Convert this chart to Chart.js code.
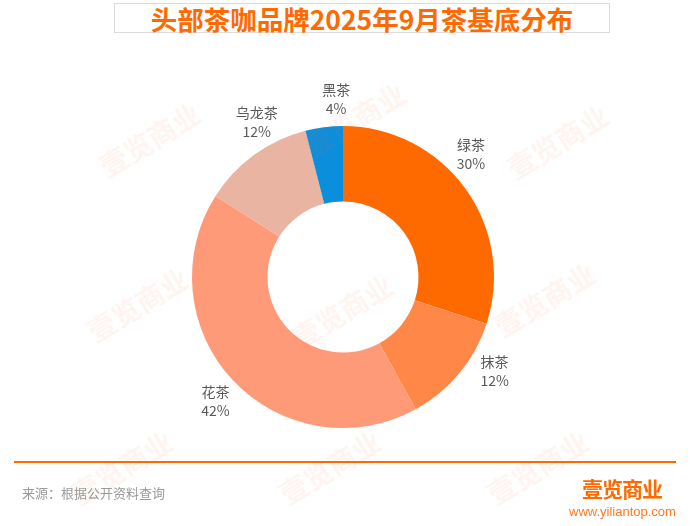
<!DOCTYPE html>
<html>
<head>
<meta charset="utf-8">
<script src="https://cdn.jsdelivr.net/npm/chart.js@4.4.1/dist/chart.umd.min.js"></script>
<style>
  html, body { margin: 0; padding: 0; background: #fff; }
  #wrap { position: relative; width: 690px; height: 526px; overflow: hidden; font-family: "Noto Sans CJK SC", "Noto Sans", sans-serif; }
  #title_box { position: absolute; left: 114px; top: 3px; width: 494px; height: 28px; border: 1px solid #dcdcdc; }
  #title { position: absolute; left: 114px; top: 0px; width: 496px; text-align: center; color: #ff6a00; font-weight: bold; font-size: 26.5px; line-height: 37px; }
  #line { position: absolute; left: 14px; top: 461px; width: 662px; height: 2px; background: #ff6a00; }
  #source { position: absolute; left: 22px; top: 483px; color: #9a9a9a; font-size: 13px; }
  #logo { position: absolute; left: 582px; top: 473px; color: #ff6a00; font-weight: bold; font-size: 21px; letter-spacing: -1px; }
  #site { position: absolute; left: 569px; top: 504px; color: #ff7a20; font-size: 13px; font-family: "Liberation Sans", sans-serif; }
  canvas { position: absolute; left: 0; top: 0; }
</style>
</head>
<body>
<div id="wrap">
  <div id="title_box"></div>
  <div id="title">头部茶咖品牌2025年9月茶基底分布</div>
  <canvas id="teaChart" width="690" height="526"></canvas>
  <div id="line"></div>
  <div id="source">来源：根据公开资料查询</div>
  <div id="logo">壹览商业</div>
  <div id="site">www.yiliantop.com</div>
</div>
<script>
var teaLabels = ["绿茶", "抹茶", "花茶", "乌龙茶", "黑茶"];
var teaValues = [30, 12, 42, 12, 4];
var teaColors = ["#ff6a00", "#ff8747", "#ff9a78", "#e9b4a2", "#0b8edc"];

// labels outside each slice (small angle nudge per label, degrees)
var labelNudge = [-8, -8, -1, 7, 5];
var sliceLabels = {
  id: "sliceLabels",
  afterDatasetsDraw(chart) {
    let ctx = chart.ctx;
    let meta = chart.getDatasetMeta(0);
    ctx.save();
    ctx.fillStyle = "#595959";
    ctx.font = "14px 'Noto Sans CJK SC', sans-serif";
    ctx.textAlign = "center";
    ctx.textBaseline = "middle";
    meta.data.forEach(function (arc, i) {
      let mid = (arc.startAngle + arc.endAngle) / 2 + labelNudge[i] * Math.PI / 180;
      let r = arc.outerRadius + 27;
      let x = arc.x + Math.cos(mid) * r;
      let y = arc.y + Math.sin(mid) * r;
      ctx.fillText(teaLabels[i], x, y - 9);
      ctx.fillText(teaValues[i] + "%", x, y + 10);
    });
    ctx.restore();
  }
};

// faint watermarks
var watermark = {
  id: "watermark",
  afterDraw(chart) {
    let ctx = chart.ctx;
    let spots = [[150, 140], [355, 120], [558, 142], [138, 305], [342, 312], [545, 300], [122, 468], [330, 468], [538, 468]];
    ctx.save();
    ctx.fillStyle = "rgba(255,120,60,0.08)";
    ctx.font = "bold 28px 'Noto Sans CJK SC', sans-serif";
    ctx.textAlign = "center";
    ctx.textBaseline = "middle";
    spots.forEach(function (p) {
      ctx.save();
      ctx.translate(p[0], p[1]);
      ctx.rotate(-0.55);
      ctx.fillText("壹览商业", 0, 0);
      ctx.restore();
    });
    ctx.restore();
  }
};

new Chart(document.getElementById("teaChart"), {
  type: "doughnut",
  data: {
    labels: teaLabels,
    datasets: [{
      data: teaValues,
      backgroundColor: teaColors,
      borderWidth: 0
    }]
  },
  options: {
    responsive: false,
    animation: false,
    cutout: "50%",
    layout: { padding: { top: 126, bottom: 98, left: 192, right: 196 } },
    plugins: {
      legend: { display: false },
      tooltip: { enabled: false }
    }
  },
  plugins: [sliceLabels, watermark]
});
</script>
</body>
</html>
